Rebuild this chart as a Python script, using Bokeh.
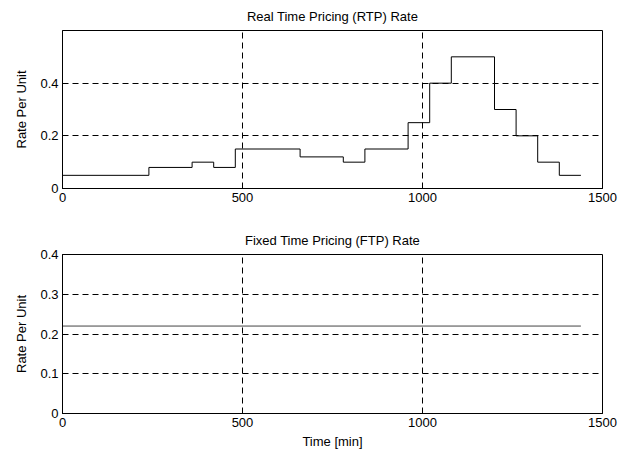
from bokeh.plotting import figure
from bokeh.layouts import column
from bokeh.models import Range1d, FixedTicker
from bokeh.embed import file_html
from bokeh.resources import INLINE

# RTP step data (minutes, rate)
rtp_time = [0, 240, 360, 420, 480, 660, 780, 840, 960, 1020, 1080, 1200, 1260, 1320, 1380, 1440]
rtp_rate = [0.05, 0.08, 0.10, 0.08, 0.15, 0.12, 0.10, 0.15, 0.25, 0.40, 0.50, 0.30, 0.20, 0.10, 0.05, 0.05]

# FTP data
ftp_time = [0, 1440]
ftp_rate = [0.22, 0.22]

x_ticks = [0, 500, 1000, 1500]
top_y_ticks = [0, 0.2, 0.4]
bot_y_ticks = [0, 0.1, 0.2, 0.3, 0.4]

FONT = "Liberation Sans"
FS = "13px"


def style(p, yticks):
    p.xaxis.ticker = FixedTicker(ticks=x_ticks)
    p.yaxis.ticker = FixedTicker(ticks=yticks)
    p.yaxis.major_label_overrides = {t: ("0" if t == 0 else f"{t:g}") for t in yticks}
    for ax in p.xaxis + p.yaxis:
        ax.major_tick_in = 4
        ax.major_tick_out = 0
        ax.minor_tick_line_color = None
        ax.axis_line_color = "black"
        ax.major_label_text_font = FONT
        ax.major_label_text_font_size = FS
        ax.major_label_text_color = "black"
        ax.axis_label_text_font = FONT
        ax.axis_label_text_font_size = FS
        ax.axis_label_text_font_style = "normal"
        ax.axis_label_text_color = "black"
        ax.major_label_standoff = 4
    p.xgrid.ticker = FixedTicker(ticks=x_ticks)
    p.ygrid.ticker = FixedTicker(ticks=yticks)
    for g in (p.xgrid, p.ygrid):
        g.grid_line_color = "black"
        g.grid_line_dash = "6 4"
        g.grid_line_width = 1
    p.outline_line_color = "black"
    p.title.text_font = FONT
    p.title.text_font_size = FS
    p.title.text_font_style = "normal"
    p.title.align = "center"
    p.title.text_color = "black"
    p.title.standoff = 13


p1 = figure(frame_width=540, frame_height=158, output_backend="svg", toolbar_location=None,
            x_range=Range1d(0, 1500), y_range=Range1d(0, 0.6),
            title="Real Time Pricing (RTP) Rate",
            min_border_left=62, min_border_right=30, min_border_top=30, min_border_bottom=30)
p1.step(rtp_time, rtp_rate, mode="after", line_color="black", line_width=1)
style(p1, top_y_ticks)
p1.yaxis[0].axis_label = "Rate Per Unit"
p1.yaxis[0].axis_label_standoff = 8

p2 = figure(frame_width=540, frame_height=159, output_backend="svg", toolbar_location=None,
            x_range=Range1d(0, 1500), y_range=Range1d(0, 0.4),
            title="Fixed Time Pricing (FTP) Rate",
            min_border_left=62, min_border_right=30, min_border_top=36, min_border_bottom=4)
p2.line(ftp_time, ftp_rate, line_color="#444444", line_width=1)
style(p2, bot_y_ticks)
p2.yaxis[0].axis_label = "Rate Per Unit"
p2.yaxis[0].axis_label_standoff = 8
p2.below[0].axis_label = "Time [min]"
p2.below[0].axis_label_standoff = 4

layout = column(p1, p2, spacing=0)
open("out.html", "w").write(file_html(layout, INLINE))
